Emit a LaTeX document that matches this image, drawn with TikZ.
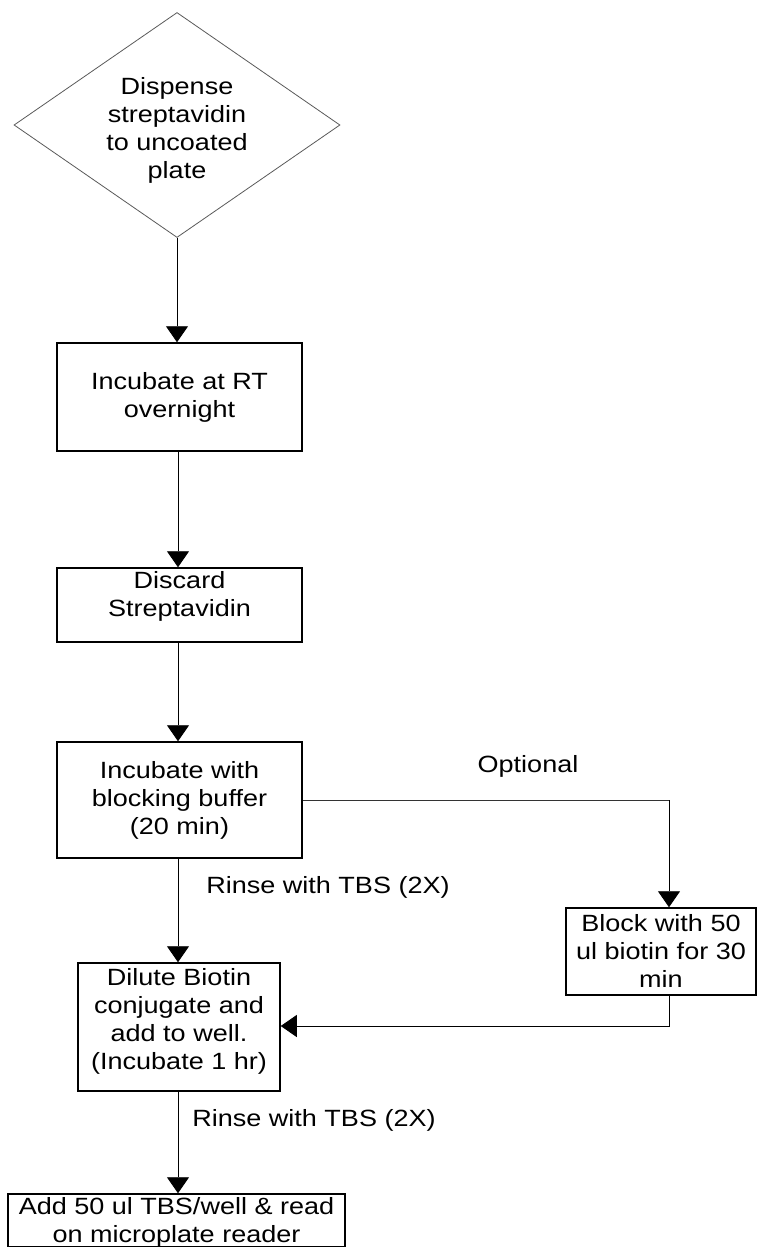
\documentclass[tikz,border=0pt]{standalone}
\usepackage{fontspec}
\setmainfont[FakeStretch=1.15]{Liberation Sans}
\usetikzlibrary{shapes.geometric,arrows.meta}
\begin{document}
\begin{tikzpicture}[x=1pt,y=-1pt,
  txt/.style={font=\fontsize{23.5}{28}\selectfont, align=center, inner sep=0pt},
  box/.style={draw, line width=1.5pt, inner sep=0pt},
  decision/.style={draw=black!65, line width=0.8pt, diamond, inner sep=0pt,
     minimum width=326pt, minimum height=225pt},
  conn/.style={line width=0.9pt, -{Triangle[length=16pt,width=22pt]}},
  link/.style={line width=0.9pt, draw=black!80}]
\useasboundingbox (0,0) rectangle (757,1247);

% shapes
\node[decision] (d) at (177,125) {};
\node[box, minimum width=245pt, minimum height=108pt] (b1) at (179.5,397) {};
\node[box, minimum width=245pt, minimum height=74pt] (b2) at (179.5,605) {};
\node[box, minimum width=245pt, minimum height=116pt] (b3) at (179.5,800) {};
\node[box, minimum width=190pt, minimum height=87pt] (bl) at (661,951.5) {};
\node[box, minimum width=202pt, minimum height=128pt] (dil) at (179,1027) {};
\node[box, minimum width=337pt, minimum height=53pt] (fin) at (176.5,1220.5) {};

% texts
\node[txt] (td) at (177,130) {Dispense\\streptavidin\\to uncoated\\plate};
\node[txt] (tb1) at (179.5,397) {Incubate at RT\\overnight};
\node[txt] (tb2) at (179.5,596) {Discard\\Streptavidin};
\node[txt] (tb3) at (179.5,800) {Incubate with\\blocking buffer\\(20 min)};
\node[txt] (tbl) at (661,951) {Block with 50\\ul biotin for 30\\min};
\node[txt] (tdil) at (179,1021.5) {Dilute Biotin\\conjugate and\\add to well.\\(Incubate 1 hr)};
\node[txt] (tfin) at (176.5,1222) {Add 50 ul TBS/well \& read\\on microplate reader};

\node[txt] (opt) at (528,766) {Optional};
\node[txt] (r1) at (328,887) {Rinse with TBS (2X)};
\node[txt] (r2) at (314,1120) {Rinse with TBS (2X)};

\coordinate (ox) at (669,800);

\draw[conn] (d.south) -- (d.south |- b1.north);
\draw[conn] (b1.south -| 178,0) -- (178,0 |- b2.north);
\draw[conn] (b2.south -| 178,0) -- (178,0 |- b3.north);
\draw[conn] (b3.south -| 178,0) -- (178,0 |- dil.north);
\draw[conn] (dil.south -| 178,0) -- (178,0 |- fin.north);
\draw[link] (b3.east) -- (ox);
\draw[conn] (ox) -- (ox |- bl.north);
\draw[conn] (bl.south -| ox) -- (ox |- 0,1026) -- (dil.east |- 0,1026);
\end{tikzpicture}
\end{document}
